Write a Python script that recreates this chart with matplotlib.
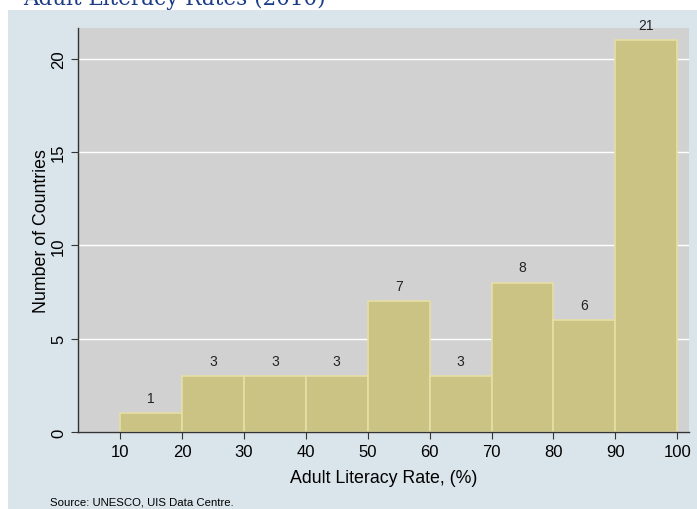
import matplotlib.pyplot as plt
import numpy as np
from matplotlib.patches import Rectangle

bin_edges = np.array([10, 20, 30, 40, 50, 60, 70, 80, 90, 100])
counts = np.array([1, 3, 3, 3, 7, 3, 8, 6, 21])
x_ticks = [10, 20, 30, 40, 50, 60, 70, 80, 90, 100]
y_ticks = [0, 5, 10, 15, 20]

plt.rcParams["font.family"] = ["Liberation Sans", "DejaVu Sans"]

W, H = 697, 510
fig = plt.figure(figsize=(W / 100, H / 100), dpi=100)
fig.patch.set_facecolor("white")

# outer light blue panel
fig.patches.append(Rectangle((8 / W, 0), 1 - 8 / W, 1 - 11 / H, transform=fig.transFigure,
                             facecolor="#dae5eb", edgecolor="none", zorder=-1))

ax = fig.add_axes([78 / W, 1 - 433 / H, (689 - 78) / W, (433 - 29) / H])
ax.set_zorder(2)
ax.set_facecolor("#d1d1d1")

ax.bar(bin_edges[:-1], counts, width=10, align="edge", color="#cbc383",
       edgecolor="#e6dfa6", linewidth=1.2, zorder=3)
for left, c in zip(bin_edges[:-1], counts):
    ax.text(left + 5, c + 0.45, str(c), ha="center", va="bottom", fontsize=10, color="#222222", zorder=4)

ax.set_xlim(3.2, 101.9)
ax.set_ylim(0, 21.66)
ax.set_xticks(x_ticks)
ax.set_yticks(y_ticks)
ax.set_yticklabels([str(t) for t in y_ticks], rotation=90, va="center")
ax.yaxis.grid(True, color="white", linewidth=1, zorder=1)
ax.set_axisbelow(True)
for s in ["top", "right"]:
    ax.spines[s].set_visible(False)
for s in ["left", "bottom"]:
    ax.spines[s].set_color("#333333")
    ax.spines[s].set_linewidth(1.0)
    ax.spines[s].set_zorder(5)
ax.tick_params(axis="both", colors="#333333", labelcolor="black", labelsize=12, length=5)
ax.set_xlabel("Adult Literacy Rate, (%)", fontsize=12.8, labelpad=7)
ax.set_ylabel("Number of Countries", fontsize=12.8, labelpad=1)

fig.text(23 / W, 1 - 5.5 / H, "Adult Literacy Rates (2010)", fontsize=15.5, family="DejaVu Serif",
         color="#1c3c86", va="baseline", ha="left", zorder=3)
fig.text(50 / W, 1 - 508 / H, "Source: UNESCO, UIS Data Centre.", fontsize=8.2, va="bottom", ha="left")

fig.savefig("out.png", dpi=100)
